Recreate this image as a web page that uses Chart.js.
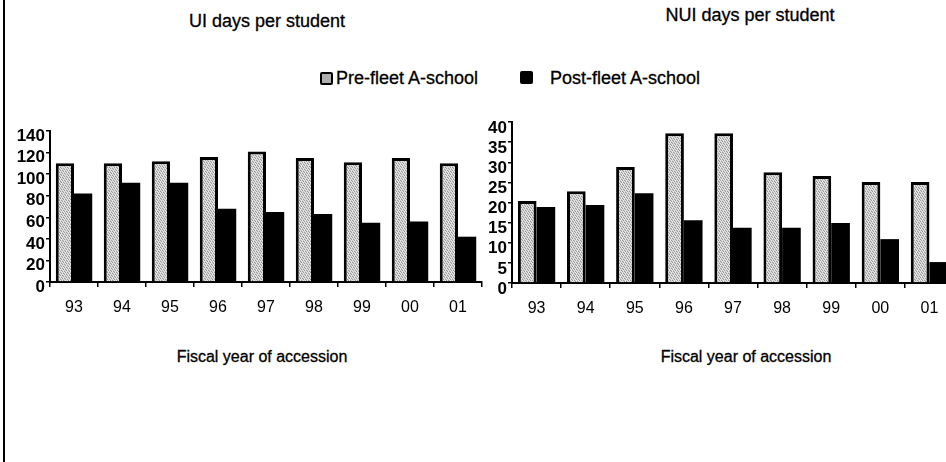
<!DOCTYPE html>
<html>
<head>
<meta charset="utf-8">
<script src="https://cdn.jsdelivr.net/npm/chart.js@4.4.0/dist/chart.umd.min.js"></script>
<style>
  html, body { margin: 0; padding: 0; background: #fff; overflow: hidden; width: 946px; height: 462px; }
  body { position: relative; font-family: "Liberation Sans", Arial, sans-serif; color: #000; }
  .txt { position: absolute; white-space: nowrap; transform: translate(-50%, -50%); -webkit-text-stroke: 0.3px #000; }
  .lbl { position: absolute; white-space: nowrap; font-size: 18px; -webkit-text-stroke: 0.3px #000; }
  .frame { position: absolute; left: 3px; top: 0; width: 2px; height: 462px; background: #000; }
  canvas { position: absolute; }
  .box { position: absolute; width: 13px; height: 13px; border-radius: 2px; box-sizing: border-box; }
</style>
</head>
<body>
<div class="frame"></div>

<div class="txt" style="left:267px; top:21px; font-size:18px;">UI days per student</div>
<div class="txt" style="left:750px; top:15px; font-size:18px;">NUI days per student</div>

<span class="box" style="left:320px; top:72px; border:2px solid #000; background:#b0b0b0;"></span>
<div class="lbl" style="left:336px; top:68px;">Pre-fleet A-school</div>
<span class="box" style="left:520px; top:71px; background:#000;"></span>
<div class="lbl" style="left:550px; top:68px;">Post-fleet A-school</div>

<div class="txt" style="left:262px; top:357px; font-size:16px;">Fiscal year of accession</div>
<div class="txt" style="left:746px; top:357px; font-size:16px;">Fiscal year of accession</div>

<canvas id="uiChart" width="490" height="201" style="left:0px; top:119px;"></canvas>
<canvas id="nuiChart" width="490" height="210" style="left:470px; top:110px;"></canvas>

<script>
// fiscal years
const years = ['93', '94', '95', '96', '97', '98', '99', '00', '01'];

// UI days per student
const uiPre = [110, 110, 112, 116, 121, 115, 111, 115, 110];
const uiPost = [82, 92, 92, 68, 65, 63, 55, 56, 42];

// NUI days per student
const nuiPre = [20.4, 22.8, 28.8, 37.2, 37.2, 27.5, 26.6, 25.1, 25.1];
const nuiPost = [18.9, 19.4, 22.3, 15.6, 13.7, 13.7, 14.9, 10.9, 5.2];

// speckled grey fill, like the scanned print
function greyPattern() {
    const c = document.createElement('canvas');
    c.width = 7; c.height = 7;
    const g = c.getContext('2d');
    for (let x = 0; x < 7; x++) {
        for (let y = 0; y < 7; y++) {
            const k = (x * 3 + y * 5) % 7;
            g.fillStyle = k < 2 ? '#999' : (k < 4 ? '#c8c8c8' : '#e6e6e6');
            g.fillRect(x, y, 1, 1);
        }
    }
    return g.createPattern(c, 'repeat');
}

const xFont = { family: '"Liberation Sans", Arial, sans-serif', size: 16 };
const yFont = { family: '"Liberation Sans", Arial, sans-serif', size: 17, weight: 'bold' };

function makeChart(id, pre, post, maxY, step, yWidth, xHeight, padRight, labelOff) {
    const ctx = document.getElementById(id).getContext('2d');
    return new Chart(ctx, {
        type: 'bar',
        data: {
            labels: years,
            datasets: [{
                label: 'Pre-fleet A-school',
                data: pre,
                backgroundColor: greyPattern(),
                borderColor: '#000',
                borderWidth: 3,
                categoryPercentage: 0.76,
                barPercentage: 1
            }, {
                label: 'Post-fleet A-school',
                data: post,
                backgroundColor: '#000',
                borderColor: '#000',
                borderWidth: 0,
                categoryPercentage: 0.76,
                barPercentage: 1
            }]
        },
        options: {
            responsive: false,
            animation: false,
            layout: { padding: { top: 12, right: padRight, left: 0, bottom: 0 } },
            plugins: {
                legend: { display: false },
                title: { display: false },
                tooltip: { enabled: false }
            },
            scales: {
                x: {
                    grid: { display: true, drawOnChartArea: false, drawTicks: true, tickLength: 5, color: '#000', lineWidth: 1.5 },
                    border: { color: '#000', width: 2 },
                    ticks: { color: '#000', font: xFont, padding: 11, maxRotation: 0, autoSkip: false },
                    afterFit: s => { s.height = xHeight; }
                },
                y: {
                    min: 0,
                    max: maxY,
                    grid: { drawOnChartArea: false, drawTicks: true, tickLength: 4, color: '#000', lineWidth: 1.5 },
                    border: { color: '#000', width: 2 },
                    ticks: { stepSize: step, color: '#000', font: yFont, padding: 1, labelOffset: labelOff, autoSkip: false },
                    afterFit: s => { s.width = yWidth; }
                }
            }
        }
    });
}

makeChart('uiChart', uiPre, uiPost, 140, 20, 50, 38, 8, 5);
makeChart('nuiChart', nuiPre, nuiPost, 40, 5, 42, 37, 6, 6);
</script>
</body>
</html>
